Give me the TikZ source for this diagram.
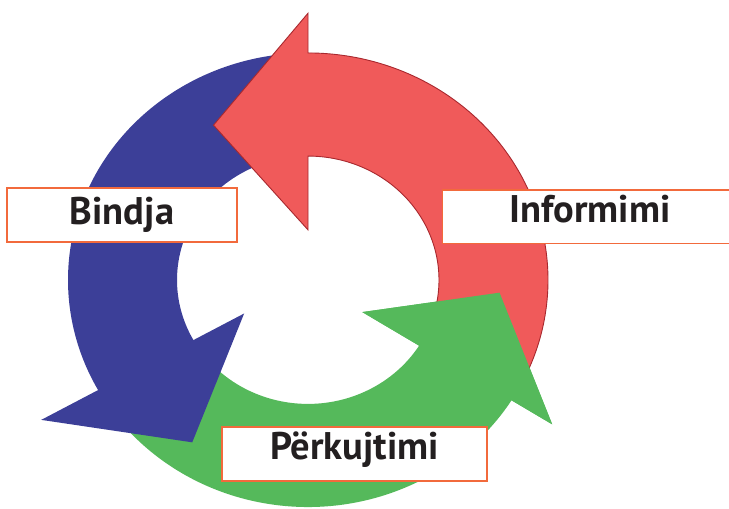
\documentclass[tikz,border=0pt]{standalone}
\usepackage{fontspec}
\setmainfont{PT Sans}
\definecolor{cred}{HTML}{F05A5A}
\definecolor{credline}{HTML}{A8282E}
\definecolor{cblue}{HTML}{3C3F98}
\definecolor{cgreen}{HTML}{55B95B}
\definecolor{boxline}{HTML}{F26A3C}
\definecolor{labeltext}{HTML}{231F20}
\begin{document}
\begin{tikzpicture}[x=1pt,y=1pt,
  label box/.style={fill=white, draw=boxline, line width=1.5pt, inner sep=0pt,
    font=\fontsize{38.5}{40}\selectfont\bfseries, text=labeltext},
  red arrow/.style={fill=cred, draw=credline, line width=0.9pt, line join=miter},
]
\useasboundingbox (0,0) rectangle (729,509);

% three circular arrows on a slightly flattened ring (outer 240, inner 131)
\begin{scope}[shift={(308,229)}, yscale=0.946]
  % green: bottom, turning up to the right
  \fill[cgreen] (215:131) -- (215:240) arc[start angle=215, end angle=328, radius=240]
    -- (328:288) -- (356:192) -- (328:64) -- (328:131)
    arc[start angle=328, end angle=215, radius=131] -- cycle;
  % blue: left side, turning down
  \fill[cblue] (95:131) -- (95:240) arc[start angle=95, end angle=209, radius=240]
    -- (209:305) -- (236:207) -- (209:73) -- (209:131)
    arc[start angle=209, end angle=95, radius=131] -- cycle;
  % red: right side, over the top
  \path[red arrow] (-25:131) -- (-25:240) arc[start angle=-25, end angle=90, radius=240]
    -- (90:282) -- (120:189) -- (90:53) -- (90:131)
    arc[start angle=90, end angle=-25, radius=131] -- cycle;
  % green head again, so that it lies over the red tail
  \fill[cgreen] (328:131) -- (328:64) -- (356:192) -- (328:288) -- (328:240) -- cycle;
\end{scope}

% labels
\node[label box, minimum width=230pt, minimum height=54pt, text height=28pt, text depth=8pt]
  (bindja) at (122,294) {Bindja};
\node[label box, draw=none, minimum width=294pt, minimum height=52pt, text height=26pt, text depth=14pt]
  (inform) at (590,292) {Informimi};
\draw[boxline, line width=1.5pt] (inform.north west) ++(290,0) -- (inform.north west)
  -- (inform.south west) -- ++(290,0);
\node[label box, minimum width=265pt, minimum height=54pt, text height=26pt, text depth=14pt]
  (perk) at (354.5,55) {Përkujtimi};
\end{tikzpicture}
\end{document}
